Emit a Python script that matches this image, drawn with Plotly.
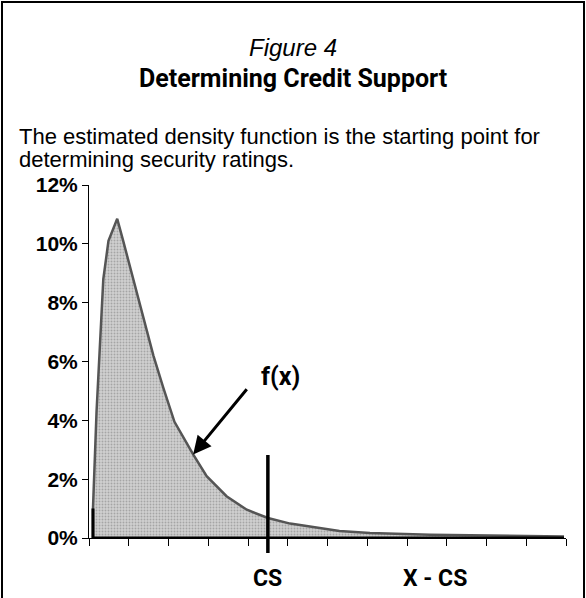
import plotly.graph_objects as go

# Data
x_vals = [0.10, 0.10, 0.19, 0.28, 0.36, 0.49, 0.71, 0.86, 1.11, 1.41, 1.62, 1.87,
          2.15, 2.62, 2.96, 3.46, 3.97, 4.50, 5.06, 6.30, 7.07, 8.58, 11.10, 11.95]
y_vals = [0.0, 1.0, 4.3, 6.8, 8.8, 10.1, 10.85, 10.1, 8.8, 7.2, 6.2, 5.1,
          3.95, 2.84, 2.1, 1.42, 0.96, 0.68, 0.49, 0.24, 0.17, 0.11, 0.07, 0.05]
y_ticks = [0, 2, 4, 6, 8, 10, 12]
x_ticks = list(range(0, 13))
cs_value = 4.5
x_cs_label_pos = 8.7

W, H = 586, 598
ML, MR, MT, MB = 89, 20, 185, 60
PW, PH = W - ML - MR, H - MT - MB


def px(x):
    return (x - ML) / PW


def py(y):
    return (H - MB - y) / PH


fig = go.Figure()
fig.add_trace(go.Scatter(
    x=x_vals, y=y_vals, mode="lines", fill="tozeroy",
    line=dict(color="#555555", width=2.5),
    fillcolor="#cfcfcf",
    fillpattern=dict(shape=".", fgcolor="#7a7a7a", bgcolor="#d0d0d0", size=3, solidity=0.3),
    hoverinfo="skip", showlegend=False,
))
# thick base line and left edge
fig.add_trace(go.Scatter(
    x=[x_vals[1], x_vals[0], x_vals[-1]], y=[y_vals[1], 0, 0], mode="lines",
    line=dict(color="black", width=3), hoverinfo="skip", showlegend=False,
))

font_cond = "Roboto, Liberation Sans, sans-serif"
font_reg = "Liberation Sans, Arial, sans-serif"

fig.update_layout(
    width=W, height=H,
    margin=dict(l=ML, r=MR, t=MT, b=MB, pad=0),
    paper_bgcolor="white", plot_bgcolor="white",
    xaxis=dict(range=[0, 12], tickvals=x_ticks, showticklabels=False, ticks="outside",
               ticklen=7, tickwidth=1, tickcolor="black", showline=True, linecolor="black",
               linewidth=1, showgrid=False, zeroline=False, fixedrange=True),
    yaxis=dict(range=[0, 12], tickvals=y_ticks, ticktext=[f"{v}%" for v in y_ticks],
               ticks="outside", ticklen=6, tickwidth=1, tickcolor="black", showline=True,
               linecolor="black", linewidth=1, showgrid=False, zeroline=False,
               tickfont=dict(family=font_reg, size=21, color="black", weight="bold"),
               fixedrange=True),
)

shapes = [
    # outer frame
    dict(type="rect", xref="paper", yref="paper", x0=px(2), x1=px(584), y0=py(612), y1=py(2),
         line=dict(color="black", width=2), fillcolor="rgba(0,0,0,0)", layer="below"),
    # CS line
    dict(type="line", xref="paper", yref="paper", x0=cs_value / 12, x1=cs_value / 12,
         y0=py(553), y1=py(455), line=dict(color="black", width=3.5)),
]
fig.update_layout(shapes=shapes)

ann = [
    dict(text="<i>Figure 4</i>", x=px(293), xref="paper", y=py(47), yref="paper",
         xanchor="center", yanchor="middle", showarrow=False,
         font=dict(family=font_reg, size=24, color="black")),
    dict(text="<b>Determining Credit Support</b>", x=px(293), xref="paper", y=py(78), yref="paper",
         xanchor="center", yanchor="middle", showarrow=False,
         font=dict(family=font_cond, size=25, color="black")),
    dict(text="The estimated density function is the starting point for", x=px(17), xref="paper",
         y=py(136), yref="paper", xanchor="left", yanchor="middle", showarrow=False,
         font=dict(family=font_reg, size=22, color="black")),
    dict(text="determining security ratings.", x=px(17), xref="paper",
         y=py(159), yref="paper", xanchor="left", yanchor="middle", showarrow=False,
         font=dict(family=font_reg, size=22, color="black")),
    dict(text="<b>CS</b>", x=cs_value, xref="x", y=py(578), yref="paper",
         xanchor="center", yanchor="middle", showarrow=False,
         font=dict(family=font_cond, size=23, color="black")),
    dict(text="<b>X - CS</b>", x=x_cs_label_pos, xref="x", y=py(578), yref="paper",
         xanchor="center", yanchor="middle", showarrow=False,
         font=dict(family=font_cond, size=23, color="black")),
    dict(text="<b>f(x)</b>", x=4.81, xref="x", y=5.5, yref="y",
         xanchor="center", yanchor="middle", showarrow=False,
         font=dict(family=font_cond, size=25, color="black")),
    dict(text="", x=2.62, y=2.84, xref="x", yref="y", ax=4.0, ay=5.11, axref="x", ayref="y",
         showarrow=True, arrowhead=2, arrowsize=1.2, arrowwidth=3, arrowcolor="black",
         standoff=0),
]
fig.update_layout(annotations=ann)

fig.write_html("out.html", config={"displayModeBar": False},
               post_script="document.body.style.margin='0px';document.body.style.overflow='hidden';")
